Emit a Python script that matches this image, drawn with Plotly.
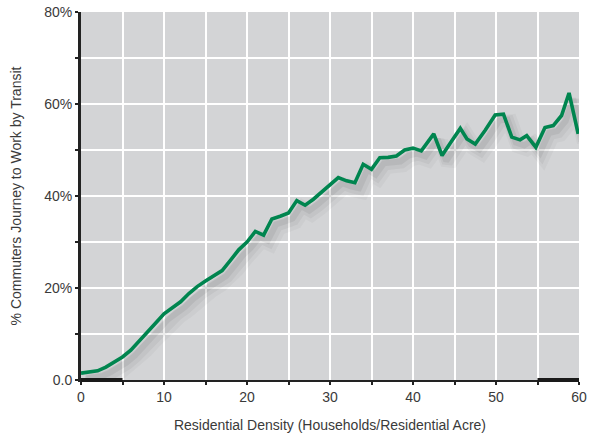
import plotly.graph_objects as go

density = [0, 1, 2, 3, 4, 5, 6, 7, 8, 9, 10, 11, 12, 13, 14, 15, 16, 17, 18, 19, 20,
           21, 22, 23, 24, 25, 26, 27, 28, 29, 30, 31, 32, 33, 34, 35, 36, 37, 38, 39,
           40, 41, 42.5, 43.5, 44.5, 45.7, 46.5, 47.5, 48.7, 49.9, 50.9, 51.9, 52.9,
           53.7, 54.8, 55.9, 56.9, 57.9, 58.8, 59.9]
transit_pct = [1.5, 1.7, 2.0, 2.8, 3.8, 5.0, 6.5, 8.4, 10.4, 12.4, 14.4, 15.7, 17.0,
               18.8, 20.3, 21.5, 22.6, 23.8, 26.0, 28.3, 30.0, 32.3, 31.5, 35.0, 35.6,
               36.3, 39.0, 38.0, 39.3, 40.8, 42.3, 44.0, 43.3, 42.9, 46.9, 45.8, 48.3,
               48.4, 48.7, 50.0, 50.4, 49.8, 53.5, 48.8, 51.5, 54.7, 52.4, 51.3, 54.3,
               57.6, 57.8, 52.8, 52.2, 53.1, 50.6, 54.9, 55.3, 57.5, 62.4, 53.5]

x_ticks = [0, 5, 10, 15, 20, 25, 30, 35, 40, 45, 50, 55, 60]
x_labels = ["0", "", "10", "", "20", "", "30", "", "40", "", "50", "", "60"]
y_ticks = [0, 10, 20, 30, 40, 50, 60, 70, 80]
y_labels = ["0.0", "", "20%", "", "40%", "", "60%", "", "80%"]

FONT = "Liberation Sans, Arial, sans-serif"

fig = go.Figure()
# soft drop shadow
for w, a, dx, dy in [(16, 0.03, 0.8, -1.8), (11, 0.045, 0.65, -1.5), (6, 0.06, 0.5, -1.2)]:
    fig.add_trace(go.Scatter(
        x=[v + dx for v in density], y=[v + dy for v in transit_pct],
        mode="lines", line=dict(color=f"rgba(0,0,0,{a})", width=w),
        hoverinfo="skip", showlegend=False))
fig.add_trace(go.Scatter(
    x=density, y=transit_pct, mode="lines",
    line=dict(color="#00854f", width=3.6), showlegend=False))

# heavier end segments on the x-axis baseline (as in the reference)
for seg in [(x_ticks[0], x_ticks[1]), (x_ticks[-2], x_ticks[-1])]:
    fig.add_shape(type="line", xref="x", yref="paper", x0=seg[0], x1=seg[1],
                  y0=0, y1=0, line=dict(color="#1a1a1a", width=4), layer="above")

fig.update_layout(
    width=593, height=440,
    margin=dict(l=81, r=14, t=12, b=60),
    paper_bgcolor="white", plot_bgcolor="#d3d4d6",
    font=dict(family=FONT, size=14, color="#3a3a3a"),
)
fig.update_xaxes(
    range=[0, 60], tickmode="array", tickvals=x_ticks, ticktext=x_labels,
    showgrid=True, gridcolor="white", gridwidth=2,
    showline=True, linecolor="#222", linewidth=2,
    ticks="outside", ticklen=3, tickcolor="#222", tickwidth=1.5,
    title=dict(text="Residential Density (Households/Residential Acre)",
               font=dict(size=14), standoff=16),
    zeroline=False, automargin=False,
)
fig.update_yaxes(
    range=[0, 80], tickmode="array", tickvals=y_ticks, ticktext=y_labels,
    showgrid=True, gridcolor="white", gridwidth=2,
    showline=True, linecolor="#222", linewidth=3,
    ticks="outside", ticklen=3, tickcolor="#222", tickwidth=1.5,
    title=dict(text="% Commuters Journey to Work by Transit",
               font=dict(size=14), standoff=20),
    zeroline=False, automargin=False,
)
fig.write_html("out.html", config={"displayModeBar": False},
               post_script="document.body.style.margin='0';document.body.style.overflow='hidden';")
